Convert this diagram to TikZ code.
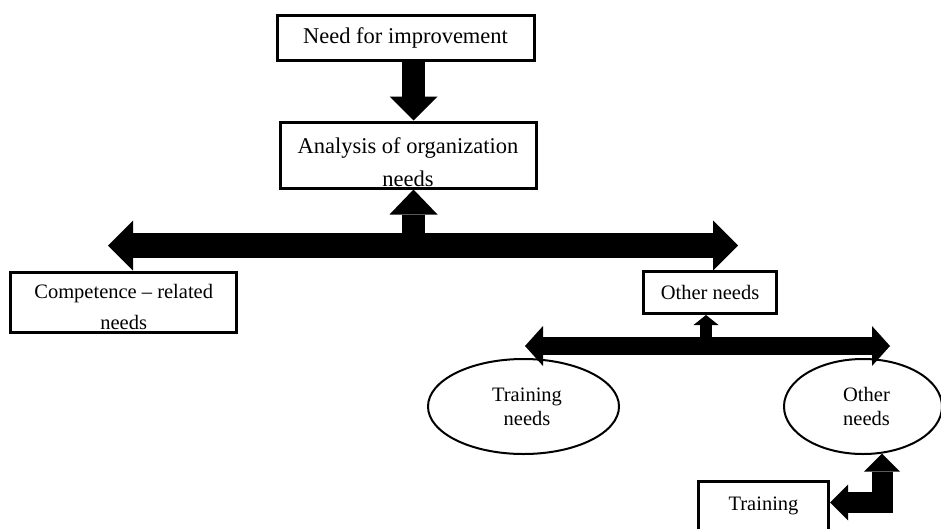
\documentclass[tikz,border=0pt]{standalone}
\usepackage{fontspec}
\setmainfont{Liberation Serif}
\usetikzlibrary{arrows.meta,shapes.geometric}
\tikzset{
  box/.style={draw, line width=3pt, fill=white, inner sep=0pt, align=center},
  oval/.style={ellipse, draw, line width=2pt, fill=white, inner sep=0pt, align=center,
    font=\fontsize{20.5}{24}\selectfont},
  bigfont/.style={font=\fontsize{22.5}{33}\selectfont},
  smallfont/.style={font=\fontsize{20.5}{31}\selectfont},
  arr/.style n args={3}{line width=#1, line cap=butt,
    -{Triangle[width=#2, length=#3, line width=0pt]}},
  darr/.style n args={3}{line width=#1, line cap=butt,
    {Triangle[width=#2, length=#3, line width=0pt]}-{Triangle[width=#2, length=#3, line width=0pt]}},
}
\begin{document}
\begin{tikzpicture}[x=1pt, y=-1pt]
\useasboundingbox (0,0) rectangle (941,528);
\fill[white] (0,0) rectangle (941,528);
\clip (0,0) rectangle (941,528);

% boxes
\node[box, bigfont, minimum width=257pt, minimum height=45pt] (need) at (405.5,38.3) {Need for improvement};
\node[box, bigfont, minimum width=256pt, minimum height=66pt, text height=63pt, text depth=1pt] (an) at (408,155) {Analysis of organization\\needs};
\node[box, smallfont, minimum width=226pt, minimum height=60pt, text height=54pt, text depth=1pt] (comp) at (123.7,302.5) {Competence -- related\\needs};
\node[box, smallfont, minimum width=133pt, minimum height=42pt] (on) at (710,292.5) {Other needs};
\node[box, smallfont, minimum width=130pt, minimum height=64pt, text height=14pt, text depth=21pt] (tr) at (763.5,513.5) {Training};

% ellipses
\node[oval, minimum width=191pt, minimum height=95pt] (tn) at (523.5,406.5) {\hspace*{7pt}Training\\\hspace*{7pt}needs};
\node[oval, minimum width=158pt, minimum height=95pt] (oe) at (863,406.5) {\hspace*{7pt}Other\\\hspace*{7pt}needs};

% free ends of the connectors
\coordinate (h1) at (413.5,245.5);
\coordinate (l1) at (108,245.5);
\coordinate (r1) at (738,245.5);
\coordinate (h2) at (706,346);
\coordinate (l2) at (525,346);
\coordinate (r2) at (890,346);
\coordinate (ty) at (0,502.5);

% block arrows
\draw[arr={23pt}{48pt}{24pt}] (need.south -| h1) -- (an.north -| h1);
\draw[arr={23pt}{48pt}{25pt}] (h1) -- (an.south -| h1);
\draw[darr={25pt}{50pt}{25pt}] (l1) -- (r1);
\draw[arr={12pt}{25pt}{10pt}] (h2) -- (on.south -| h2);
\draw[darr={18pt}{40pt}{18pt}] (l2) -- (r2);
\draw[darr={21pt}{36pt}{18pt}, line join=miter] (oe.-68) |- (tr.east |- ty);
\end{tikzpicture}
\end{document}
